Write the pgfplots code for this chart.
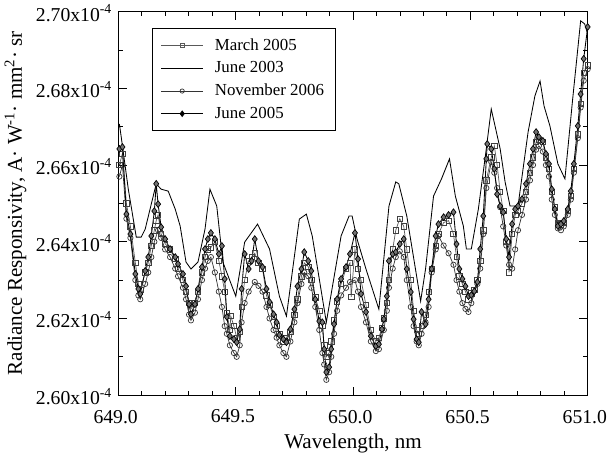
\documentclass[border=0pt]{standalone}
\usepackage{fontspec}
\setmainfont{Liberation Serif}
\usepackage{pgfplots}
\pgfplotsset{compat=1.18}
\begin{document}
\begin{tikzpicture}[font=\fontsize{14}{16}\selectfont]
\begin{axis}[
  scale only axis,
  width=334pt, height=273pt,
  xmin=649, xmax=651, ymin=2.60, ymax=2.70,
  xtick={649,649.5,650,650.5,651},
  xticklabels={649.0,649.5,650.0,650.5,651.0},
  minor x tick num=4,
  ytick={2.60,2.62,2.64,2.66,2.68,2.70},
  yticklabels={2.60x10\textsuperscript{-4},2.62x10\textsuperscript{-4},2.64x10\textsuperscript{-4},2.66x10\textsuperscript{-4},2.68x10\textsuperscript{-4},2.70x10\textsuperscript{-4}},
  minor y tick num=1,
  tick align=inside,
  tick pos=both,
  major tick length=6pt,
  minor tick length=3pt,
  axis line style={line width=0.8pt},
  every tick/.style={black, line width=0.6pt},
  xlabel={Wavelength, nm},
  ylabel={Radiance Responsivity, A· W\textsuperscript{-1}· mm\textsuperscript{2}· sr},
  xlabel style={font=\fontsize{15}{17}\selectfont, yshift=-0.5pt},
  ylabel style={font=\fontsize{15}{17}\selectfont, yshift=0pt},
  xticklabel style={yshift=-7pt, xshift=-2pt, inner xsep=0pt},
  yticklabel style={xshift=-1pt, yshift=-1pt},
  legend style={at={(0.0714,0.956)}, anchor=north west, draw=black, line width=0.6pt,
    font=\fontsize{12}{14}\selectfont, row sep=2.5pt, column sep=6pt, inner xsep=6pt, inner ysep=5pt},
  legend cell align=left,
  legend image code/.code={\draw[#1, mark=none] (0cm,0cm) -- (1.05cm,0cm); \draw[#1, mark options={scale=0.8}, mark repeat=2, mark phase=2] plot coordinates {(0cm,0cm) (0.525cm,0cm) (1.05cm,0cm)};},
]
% March 2005
\addplot[black!65, line width=0.5pt, mark=square, mark size=1.9pt, mark options={black!75, solid, line width=0.5pt, fill=white}] coordinates {
(649.004,2.6600) (649.017,2.6630) (649.034,2.6500) (649.051,2.6440) (649.072,2.6345) (649.085,2.6290)
(649.093,2.6275) (649.114,2.6320) (649.127,2.6345) (649.140,2.6390) (649.153,2.6430) (649.161,2.6455)
(649.169,2.6470) (649.182,2.6420) (649.199,2.6395) (649.220,2.6380) (649.242,2.6355) (649.254,2.6330)
(649.275,2.6300) (649.288,2.6270) (649.301,2.6240) (649.309,2.6225) (649.326,2.6240) (649.339,2.6270)
(649.356,2.6320) (649.369,2.6360) (649.381,2.6380) (649.394,2.6385) (649.411,2.6400) (649.428,2.6350)
(649.441,2.6310) (649.453,2.6270) (649.462,2.6215) (649.475,2.6170) (649.479,2.6206) (649.492,2.6180)
(649.504,2.6150) (649.517,2.6165) (649.525,2.6230) (649.538,2.6300) (649.555,2.6350) (649.568,2.6360)
(649.581,2.6370) (649.597,2.6345) (649.614,2.6330) (649.631,2.6260) (649.644,2.6235) (649.661,2.6205)
(649.674,2.6180) (649.686,2.6160) (649.703,2.6140) (649.716,2.6150) (649.733,2.6165) (649.750,2.6210)
(649.763,2.6250) (649.780,2.6310) (649.792,2.6345) (649.809,2.6335) (649.822,2.6300) (649.839,2.6255)
(649.856,2.6220) (649.869,2.6180) (649.877,2.6130) (649.886,2.6100) (649.898,2.6110) (649.907,2.6140)
(649.919,2.6195) (649.932,2.6245) (649.949,2.6290) (649.970,2.6330) (649.987,2.6345) (649.992,2.6256)
(650.008,2.6380) (650.021,2.6330) (650.034,2.6300) (650.055,2.6235) (650.076,2.6170) (650.097,2.6140)
(650.110,2.6150) (650.123,2.6175) (650.131,2.6200) (650.144,2.6240) (650.153,2.6300) (650.169,2.6380)
(650.182,2.6430) (650.199,2.6460) (650.216,2.6440) (650.229,2.6380) (650.246,2.6300) (650.258,2.6220)
(650.271,2.6170) (650.280,2.6160) (650.292,2.6180) (650.309,2.6210) (650.322,2.6270) (650.335,2.6330)
(650.352,2.6390) (650.364,2.6420) (650.386,2.6450) (650.407,2.6455) (650.428,2.6420) (650.441,2.6360)
(650.453,2.6310) (650.466,2.6290) (650.479,2.6270) (650.492,2.6250) (650.504,2.6265) (650.517,2.6275)
(650.530,2.6300) (650.542,2.6350) (650.555,2.6430) (650.568,2.6560) (650.589,2.6620) (650.602,2.6650)
(650.614,2.6600) (650.627,2.6530) (650.640,2.6480) (650.653,2.6400) (650.665,2.6320) (650.678,2.6420)
(650.691,2.6470) (650.703,2.6480) (650.720,2.6500) (650.737,2.6530) (650.754,2.6580) (650.767,2.6620)
(650.780,2.6660) (650.792,2.6665) (650.809,2.6660) (650.822,2.6620) (650.835,2.6590) (650.847,2.6530)
(650.860,2.6490) (650.873,2.6450) (650.886,2.6445) (650.898,2.6450) (650.915,2.6480) (650.928,2.6520)
(650.941,2.6590) (650.958,2.6680) (650.970,2.6760) (650.983,2.6840) (651.000,2.6860)
};
\addlegendentry{March 2005}
% June 2003
\addplot[black, line width=0.6pt, mark=none] coordinates {
(649.004,2.6707) (649.013,2.6668) (649.042,2.6537) (649.076,2.6412) (649.097,2.6412) (649.114,2.6433)
(649.161,2.6551) (649.182,2.6537) (649.212,2.6532) (649.242,2.6485) (649.263,2.6441) (649.288,2.6347)
(649.309,2.6329) (649.339,2.6347) (649.369,2.6433) (649.390,2.6537) (649.419,2.6493) (649.445,2.6347)
(649.500,2.6258) (649.538,2.6399) (649.593,2.6446) (649.644,2.6381) (649.686,2.6258) (649.716,2.6206)
(649.771,2.6459) (649.801,2.6472) (649.826,2.6415) (649.856,2.6303) (649.886,2.6190) (649.949,2.6415)
(649.983,2.6467) (649.996,2.6467) (650.017,2.6407) (650.055,2.6329) (650.110,2.6224) (650.153,2.6493)
(650.182,2.6556) (650.195,2.6551) (650.229,2.6467) (650.271,2.6310) (650.288,2.6245) (650.309,2.6329)
(650.343,2.6519) (650.377,2.6564) (650.411,2.6616) (650.436,2.6519) (650.470,2.6441) (650.483,2.6381)
(650.504,2.6381) (650.534,2.6485) (650.564,2.6624) (650.589,2.6746) (650.627,2.6642) (650.648,2.6556)
(650.669,2.6493) (650.703,2.6493) (650.746,2.6686) (650.775,2.6780) (650.797,2.6819) (650.814,2.6754)
(650.839,2.6702) (650.873,2.6603) (650.903,2.6564) (650.936,2.6772) (650.970,2.6976) (650.987,2.6968)
(651.000,2.6942)
};
\addlegendentry{June 2003}
% November 2006
\addplot[black!80, line width=0.5pt, mark=o, mark size=1.9pt, mark options={black!80, solid, line width=0.5pt, fill=white}] coordinates {
(649.004,2.6570) (649.017,2.6600) (649.034,2.6460) (649.051,2.6410) (649.072,2.6300) (649.085,2.6260)
(649.093,2.6250) (649.114,2.6290) (649.127,2.6320) (649.140,2.6360) (649.153,2.6400) (649.169,2.6430)
(649.182,2.6410) (649.199,2.6380) (649.220,2.6360) (649.242,2.6330) (649.254,2.6310) (649.275,2.6280)
(649.288,2.6250) (649.301,2.6210) (649.309,2.6195) (649.326,2.6215) (649.339,2.6250) (649.356,2.6300)
(649.369,2.6330) (649.381,2.6350) (649.394,2.6360) (649.411,2.6320) (649.428,2.6270) (649.441,2.6230)
(649.453,2.6180) (649.462,2.6160) (649.475,2.6130) (649.492,2.6110) (649.504,2.6100) (649.517,2.6130)
(649.525,2.6190) (649.538,2.6240) (649.555,2.6270) (649.581,2.6295) (649.597,2.6285) (649.614,2.6270)
(649.631,2.6230) (649.644,2.6200) (649.661,2.6170) (649.674,2.6150) (649.686,2.6130) (649.703,2.6110)
(649.716,2.6100) (649.733,2.6140) (649.750,2.6190) (649.763,2.6240) (649.780,2.6290) (649.792,2.6320)
(649.809,2.6310) (649.822,2.6280) (649.839,2.6230) (649.856,2.6170) (649.869,2.6110) (649.877,2.6080)
(649.886,2.6040) (649.898,2.6060) (649.907,2.6100) (649.919,2.6160) (649.932,2.6220) (649.949,2.6260)
(649.970,2.6280) (649.987,2.6295) (650.008,2.6300) (650.021,2.6270) (650.034,2.6230) (650.055,2.6190)
(650.076,2.6140) (650.097,2.6115) (650.110,2.6120) (650.131,2.6170) (650.144,2.6220) (650.153,2.6280)
(650.169,2.6330) (650.182,2.6360) (650.199,2.6375) (650.216,2.6360) (650.229,2.6300) (650.246,2.6230)
(650.258,2.6180) (650.271,2.6140) (650.280,2.6130) (650.292,2.6160) (650.309,2.6190) (650.322,2.6230)
(650.335,2.6320) (650.352,2.6380) (650.364,2.6415) (650.386,2.6390) (650.407,2.6370) (650.428,2.6340)
(650.441,2.6300) (650.453,2.6270) (650.466,2.6240) (650.479,2.6225) (650.492,2.6217) (650.504,2.6240)
(650.530,2.6290) (650.542,2.6330) (650.555,2.6420) (650.568,2.6540) (650.589,2.6608) (650.602,2.6580)
(650.614,2.6540) (650.627,2.6490) (650.640,2.6440) (650.653,2.6390) (650.665,2.6340) (650.678,2.6330)
(650.691,2.6380) (650.703,2.6430) (650.720,2.6470) (650.737,2.6510) (650.754,2.6560) (650.767,2.6600)
(650.780,2.6640) (650.792,2.6650) (650.809,2.6635) (650.822,2.6600) (650.835,2.6570) (650.847,2.6510)
(650.860,2.6470) (650.873,2.6435) (650.886,2.6430) (650.898,2.6440) (650.915,2.6470) (650.928,2.6510)
(650.941,2.6580) (650.958,2.6670) (650.970,2.6750) (650.983,2.6820) (651.000,2.6850)
};
\addlegendentry{November 2006}
% June 2005
\addplot[black, line width=0.6pt, mark=diamond*, mark size=2.4pt, mark options={black, solid, line width=0.5pt, fill=black!55}] coordinates {
(649.004,2.6642) (649.017,2.6647) (649.034,2.6472) (649.051,2.6420) (649.072,2.6316) (649.085,2.6277)
(649.093,2.6264) (649.114,2.6324) (649.127,2.6360) (649.140,2.6415) (649.153,2.6480) (649.161,2.6551)
(649.169,2.6498) (649.182,2.6438) (649.199,2.6407) (649.220,2.6381) (649.242,2.6360) (649.254,2.6342)
(649.275,2.6316) (649.288,2.6284) (649.301,2.6237) (649.309,2.6211) (649.326,2.6237) (649.339,2.6277)
(649.356,2.6334) (649.369,2.6381) (649.381,2.6407) (649.394,2.6423) (649.411,2.6407) (649.428,2.6368)
(649.441,2.6389) (649.453,2.6303) (649.462,2.6204) (649.475,2.6154) (649.492,2.6146) (649.504,2.6138)
(649.517,2.6172) (649.525,2.6277) (649.538,2.6368) (649.555,2.6329) (649.568,2.6350) (649.581,2.6407)
(649.597,2.6350) (649.614,2.6334) (649.631,2.6277) (649.644,2.6243) (649.661,2.6211) (649.674,2.6190)
(649.686,2.6157) (649.703,2.6146) (649.716,2.6138) (649.733,2.6172) (649.750,2.6224) (649.763,2.6284)
(649.780,2.6329) (649.792,2.6373) (649.809,2.6350) (649.822,2.6324) (649.839,2.6250) (649.856,2.6193)
(649.869,2.6190) (649.877,2.6120) (649.886,2.6060) (649.898,2.6073) (649.907,2.6120) (649.919,2.6185)
(649.932,2.6250) (649.949,2.6303) (649.970,2.6334) (649.987,2.6368) (650.008,2.6423) (650.021,2.6355)
(650.034,2.6264) (650.055,2.6217) (650.076,2.6154) (650.097,2.6128) (650.110,2.6133) (650.123,2.6172)
(650.131,2.6198) (650.144,2.6258) (650.153,2.6350) (650.169,2.6368) (650.182,2.6373) (650.199,2.6394)
(650.216,2.6407) (650.229,2.6329) (650.246,2.6269) (650.258,2.6198) (650.271,2.6146) (650.280,2.6138)
(650.292,2.6217) (650.309,2.6185) (650.322,2.6250) (650.335,2.6329) (650.352,2.6415) (650.364,2.6446)
(650.386,2.6464) (650.407,2.6470) (650.428,2.6477) (650.441,2.6394) (650.453,2.6329) (650.466,2.6303)
(650.479,2.6284) (650.492,2.6258) (650.504,2.6261) (650.517,2.6271) (650.530,2.6295) (650.542,2.6381)
(650.555,2.6467) (650.568,2.6616) (650.572,2.6655) (650.589,2.6642) (650.602,2.6590) (650.614,2.6524)
(650.627,2.6493) (650.640,2.6477) (650.653,2.6407) (650.665,2.6360) (650.678,2.6446) (650.691,2.6485)
(650.703,2.6493) (650.720,2.6511) (650.737,2.6551) (650.754,2.6603) (650.767,2.6642) (650.780,2.6686)
(650.792,2.6673) (650.809,2.6663) (650.822,2.6629) (650.835,2.6603) (650.847,2.6537) (650.860,2.6485)
(650.873,2.6441) (650.886,2.6446) (650.898,2.6454) (650.915,2.6485) (650.928,2.6532) (650.941,2.6603)
(650.958,2.6702) (650.970,2.6785) (650.983,2.6877) (651.000,2.6960)
};
\addlegendentry{June 2005}
\end{axis}
\end{tikzpicture}
\end{document}
